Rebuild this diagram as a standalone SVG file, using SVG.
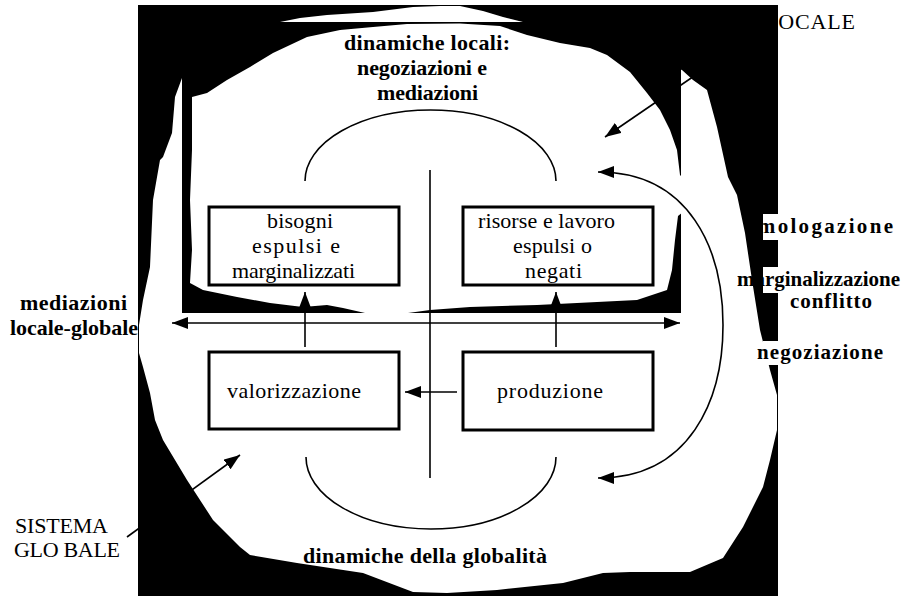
<svg xmlns="http://www.w3.org/2000/svg" width="903" height="596" viewBox="0 0 903 596">
<style>
.bg{fill:#000}
.wh{fill:#fff}
.box{fill:#fff;stroke:#000;stroke-width:3}
.ln{fill:none;stroke:#000;stroke-width:1.6}
.t{font-family:"Liberation Serif","Times New Roman",serif;font-size:22px;fill:#000}
.b{font-family:"Liberation Serif","Times New Roman",serif;font-size:22px;font-weight:bold;fill:#000}
.r{font-size:21px}
</style>
<defs>
<marker id="ah" viewBox="0 0 16 12" refX="16" refY="6" markerWidth="16" markerHeight="12" markerUnits="userSpaceOnUse" orient="auto-start-reverse">
<path d="M0,0 L16,6 L0,12 Z" fill="#000"/>
</marker>
</defs>
<rect width="903" height="596" fill="#fff"/>
<g id="background">
<rect class="bg" x="138" y="5" width="640" height="591"/>
<path id="global-blob" class="wh" d="M182,78 L230,45 L280,22 L300,18 L327,15 L373,12 L413,7 L440,6 L460,6 L483,11 L503,17 L523,22 L600,40 L682,70 L693,80 L707,90 L717,127 L728,177 L737,195 L745,233 L752,280 L760,330 L770,370 L777,395 L777,430 L770,460 L763,487 L743,527 L723,558 L690,572 L630,572 L603,573 L563,583 L497,590 L447,593 L413,592 L363,573 L297,563 L250,555 L240,547 L213,520 L187,480 L163,440 L155,420 L150,393 L143,367 L139,353 L139,325 L143,300 L150,267 L153,200 L160,160 L163,157 L172,133 L175,97 Z"/>
<rect class="bg" x="182" y="22" width="499" height="291"/>
<path id="local-blob" class="wh" d="M192,97 L207,93 L227,80 L250,67 L273,53 L307,37 L340,30 L373,27 L407,24 L460,23.5 L500,26 L527,35 L560,43 L590,48 L607,55 L630,72 L647,93 L660,110 L670,130 L677,150 L680,175 L683,178 L683,212 L678,216 L675,240 L672,270 L667,290 L637,300 L537,305 L470,307 L430,310 L408,313 L408,315 L365,315 L365,313 L343,308 L327,305 L303,307 L270,303 L237,297 L203,290 L190,283 L192,250 L190,200 L192,150 Z"/>
<rect class="wh" x="763" y="214" width="16" height="26"/>
<rect class="wh" x="763" y="267" width="16" height="26"/>
<rect class="wh" x="763" y="341" width="16" height="24"/>
</g>
<g id="connectors">
<path class="ln" d="M305,181 A125.5,71 0 0 1 556,181"/>
<path class="ln" d="M306,457 A125,72 0 0 0 556,457"/>
<path class="ln" d="M430,170 V478"/>
<path class="ln" d="M172,323 H680" marker-start="url(#ah)" marker-end="url(#ah)"/>
<path class="ln" d="M305,347 V292" marker-end="url(#ah)"/>
<path class="ln" d="M556,347 V292" marker-end="url(#ah)"/>
<path class="ln" d="M457,392 H405" marker-end="url(#ah)"/>
<path class="ln" d="M598,172 C690,172 723,250 723,325 C723,400 690,478 598,478" marker-start="url(#ah)" marker-end="url(#ah)"/>
<path class="ln" d="M700,72 L605,137" marker-end="url(#ah)"/>
<path class="ln" d="M127,537 L240,455" marker-end="url(#ah)"/>
</g>
<g id="bisogni">
<rect class="box" x="209" y="207" width="190" height="78"/>
<text class="t" x="267" y="228" textLength="66">bisogni</text>
<text class="t" x="252" y="253" textLength="88">espulsi e</text>
<text class="t" x="232" y="278" textLength="123">marginalizzati</text>
</g>
<g id="risorse">
<rect class="box" x="463" y="207" width="190" height="78"/>
<text class="t" x="478" y="228" textLength="137">risorse e lavoro</text>
<text class="t" x="513" y="253" textLength="79">espulsi o</text>
<text class="t" x="525" y="278" textLength="57">negati</text>
</g>
<g id="valorizzazione">
<rect class="box" x="209" y="352" width="190" height="77"/>
<text class="t" x="227" y="398" textLength="134">valorizzazione</text>
</g>
<g id="produzione">
<rect class="box" x="463" y="352" width="190" height="78"/>
<text class="t" x="497" y="398" textLength="106">produzione</text>
</g>
<g id="dinamiche-locali">
<text class="b" x="344" y="50" textLength="166">dinamiche locali:</text>
<text class="b" x="357" y="75" textLength="130">negoziazioni e</text>
<text class="b" x="377" y="100" textLength="101">mediazioni</text>
</g>
<g id="dinamiche-globalita">
<text class="b" x="303" y="563" textLength="244">dinamiche della globalità</text>
</g>
<g id="mediazioni-locale-globale">
<text class="b" x="20" y="310" textLength="107">mediazioni</text>
<text class="b" x="10" y="335" textLength="128">locale-globale</text>
</g>
<g id="sistema-locale">
<text class="t" x="764" y="29" textLength="91">LOCALE</text>
</g>
<g id="sistema-globale">
<text class="t" x="15" y="533" textLength="93">SISTEMA</text>
<text class="t" x="14" y="557" textLength="106">GLO BALE</text>
</g>
<g id="processi">
<text class="b r" x="745" y="233" textLength="148">omologazione</text>
<text class="b r" x="737" y="286" textLength="163">marginalizzazione</text>
<text class="b r" x="790" y="308" textLength="82">conflitto</text>
<text class="b r" x="757" y="359" textLength="126">negoziazione</text>
</g>
</svg>
